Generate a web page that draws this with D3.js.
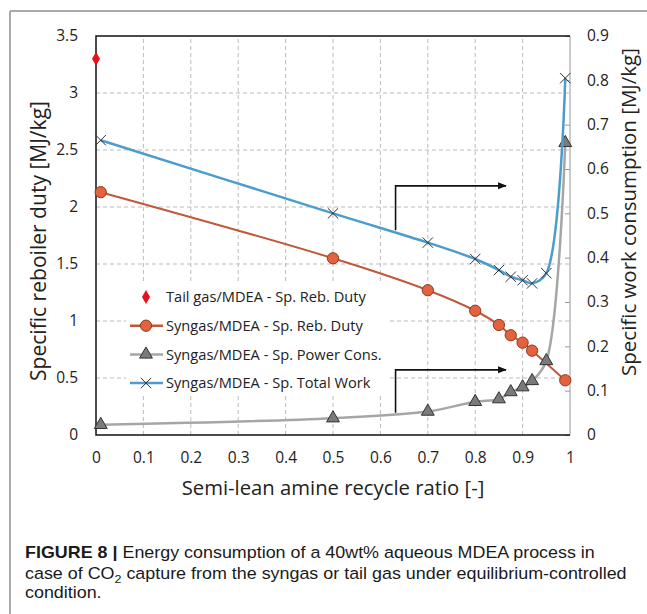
<!DOCTYPE html>
<html>
<head>
<meta charset="utf-8">
<script src="https://cdn.jsdelivr.net/npm/d3@7"></script>
<style>
body { margin: 0; background: #fff; }
svg { display: block; }
.chart text { font-family: "Open Sans", Lato, sans-serif; fill: #222; }
.caption { font-family: "Liberation Sans", Arial, sans-serif; fill: #1a1a1a; font-size: 16.5px; }
</style>
</head>
<body>
<svg width="647" height="614"></svg>
<script>
// values
const tailGasX = [0]
const tailGasDuty = [3.3]

const rebX = [0.01, 0.5, 0.7, 0.8, 0.85, 0.875, 0.9, 0.92, 0.99]
const rebDuty = [2.13, 1.55, 1.27, 1.09, 0.965, 0.875, 0.81, 0.74, 0.48]

const workX = [0.01, 0.5, 0.7, 0.8, 0.85, 0.875, 0.9, 0.92, 0.95, 0.99]
const powerCons = [0.023, 0.038, 0.053, 0.075, 0.081, 0.097, 0.108, 0.122, 0.167, 0.659]
const totalWork = [0.665, 0.5, 0.434, 0.397, 0.372, 0.357, 0.349, 0.342, 0.365, 0.805]

const xTicks = [0, 0.1, 0.2, 0.3, 0.4, 0.5, 0.6, 0.7, 0.8, 0.9, 1]
const leftTicks = [0, 0.5, 1, 1.5, 2, 2.5, 3, 3.5]
const rightTicks = [0, 0.1, 0.2, 0.3, 0.4, 0.5, 0.6, 0.7, 0.8, 0.9]

const legendLabels = [
    "Tail gas/MDEA - Sp. Reb. Duty",
    "Syngas/MDEA - Sp. Reb. Duty",
    "Syngas/MDEA - Sp. Power Cons.",
    "Syngas/MDEA - Sp. Total Work"
]

// arrows pointing to the right axis (x, right-axis values)
const arrowX = [0.632, 0.865]
const arrowTopY = [0.462, 0.562]
const arrowBottomY = [0.05, 0.147]

const svg = d3.select('svg')
const chart = svg.append('g').attr('class', 'chart')

const x = d3.scaleLinear().domain([0, 1]).range([96, 570])
const yLeft = d3.scaleLinear().domain([0, 3.5]).range([435, 36])
const yRight = d3.scaleLinear().domain([0, 0.9]).range([435, 36])

// scale a label's font so it spans the width seen in the figure
function fitWidth(sel, target) {
    const w = sel.node().getComputedTextLength()
    sel.attr('font-size', +sel.attr('font-size') * target / w)
}

// outer frame of the figure
svg.append('line').attr('x1', 10).attr('x2', 647).attr('y1', 11).attr('y2', 11)
    .attr('stroke', '#555').attr('stroke-width', 1)
svg.append('line').attr('x1', 10).attr('x2', 10).attr('y1', 11).attr('y2', 614)
    .attr('stroke', '#aaa').attr('stroke-width', 2)

// grid
chart.append('g').selectAll('line')
    .data(xTicks.slice(1, -1))
    .enter().append('line')
        .attr('x1', d => x(d)).attr('x2', d => x(d))
        .attr('y1', yLeft(0)).attr('y2', yLeft(3.5))
        .attr('stroke', '#bbb').attr('stroke-dasharray', '4,3')
chart.append('g').selectAll('line')
    .data(leftTicks.slice(1, -1))
    .enter().append('line')
        .attr('x1', x(0)).attr('x2', x(1))
        .attr('y1', d => yLeft(d)).attr('y2', d => yLeft(d))
        .attr('stroke', '#bbb').attr('stroke-dasharray', '4,3')

// axes
const xAxis = chart.append('g')
    .attr('transform', `translate(0,${yLeft(0)})`)
    .call(d3.axisBottom(x).tickValues(xTicks).tickSize(0).tickPadding(17).tickFormat(d => String(d)))
const leftAxis = chart.append('g')
    .attr('transform', `translate(${x(0)},0)`)
    .call(d3.axisLeft(yLeft).tickValues(leftTicks).tickSize(0).tickPadding(18).tickFormat(d => String(d)))
const rightAxis = chart.append('g')
    .attr('transform', `translate(${x(1)},0)`)
    .call(d3.axisRight(yRight).tickValues(rightTicks).tickSizeInner(-5).tickSizeOuter(0).tickPadding(17).tickFormat(d => String(d)))

;[xAxis, leftAxis, rightAxis].forEach(a => {
    a.select('.domain').remove()
    a.selectAll('text').attr('font-size', 15.5).attr('font-family', null).attr('fill', '#222')
})
rightAxis.selectAll('line').attr('stroke', '#999')

// plot border
chart.append('line').attr('x1', x(1)).attr('x2', x(1)).attr('y1', yLeft(0)).attr('y2', yLeft(3.5))
    .attr('stroke', '#999').attr('stroke-width', 1)
chart.append('path')
    .attr('d', `M${x(1)},${yLeft(3.5)}H${x(0)}V${yLeft(0)}H${x(1)}`)
    .attr('fill', 'none').attr('stroke', '#111').attr('stroke-width', 1.5)

// axis titles
const leftTitle = chart.append('text')
    .attr('transform', `translate(38,241) rotate(-90)`)
    .attr('text-anchor', 'middle').attr('dominant-baseline', 'central')
    .attr('font-size', 18)
    .text('Specific reboiler duty [MJ/kg]')
fitWidth(leftTitle, 280)
const rightTitle = chart.append('text')
    .attr('transform', `translate(628,212) rotate(-90)`)
    .attr('text-anchor', 'middle').attr('dominant-baseline', 'central')
    .attr('font-size', 18)
    .text('Specific work consumption [MJ/kg]')
fitWidth(rightTitle, 328)
const xTitle = chart.append('text')
    .attr('x', (x(0) + x(1)) / 2).attr('y', 495)
    .attr('text-anchor', 'middle')
    .attr('font-size', 18)
    .text('Semi-lean amine recycle ratio [-]')
fitWidth(xTitle, 303)

// arrows
svg.append('defs').append('marker')
    .attr('id', 'arrow')
    .attr('viewBox', '0 0 10 10').attr('refX', 9).attr('refY', 5)
    .attr('markerWidth', 5.5).attr('markerHeight', 5.5)
    .attr('markerUnits', 'strokeWidth')
    .attr('orient', 'auto')
    .append('path').attr('d', 'M0,1L10,5L0,9Z').attr('fill', '#111')

;[arrowTopY, arrowBottomY].forEach(ys => {
    chart.append('path')
        .attr('d', `M${x(arrowX[0])},${yRight(ys[0])}V${yRight(ys[1])}H${x(arrowX[1])}`)
        .attr('fill', 'none').attr('stroke', '#111').attr('stroke-width', 1.6)
        .attr('marker-end', 'url(#arrow)')
})

// series
const smooth = d3.curveCatmullRom.alpha(0.5)
const circleSym = d3.symbol(d3.symbolCircle, 100)
const triangleSym = d3.symbol(d3.symbolTriangle, 72)
const crossSym = d3.symbol(d3.symbolX, 72)
const diamondSym = d3.symbol(d3.symbolDiamond, 55)

function drawLine(xs, ys, yScale, colour, width) {
    chart.append('path')
        .datum(xs.map((d, i) => [d, ys[i]]))
        .attr('fill', 'none')
        .attr('stroke', colour)
        .attr('stroke-width', width)
        .attr('d', d3.line().x(d => x(d[0])).y(d => yScale(d[1])).curve(smooth))
}

function drawMarkers(xs, ys, yScale, sym, fill, stroke, strokeWidth) {
    chart.append('g').selectAll('path')
        .data(xs.map((d, i) => [d, ys[i]]))
        .enter().append('path')
            .attr('transform', d => `translate(${x(d[0])},${yScale(d[1])})`)
            .attr('d', sym)
            .attr('fill', fill)
            .attr('stroke', stroke)
            .attr('stroke-width', strokeWidth)
}

const rebColour = '#c0583a'
const powerColour = '#a6a6a6'
const workColour = '#4a9dcc'

drawLine(rebX, rebDuty, yLeft, rebColour, 2)
drawMarkers(rebX, rebDuty, yLeft, circleSym, '#e2633d', '#8a3a22', 1)

drawLine(workX, powerCons, yRight, powerColour, 2.5)
drawMarkers(workX, powerCons, yRight, triangleSym, '#7a7a7a', '#333', 1)

drawLine(workX, totalWork, yRight, workColour, 2.5)
drawMarkers(workX, totalWork, yRight, crossSym, 'none', '#333', 1)

drawMarkers(tailGasX, tailGasDuty, yLeft, diamondSym, '#e8101a', 'none', 0)

// legend
const legend = chart.append('g')
legend.append('rect')
    .attr('x', 126).attr('y', 284).attr('width', 262).attr('height', 110)
    .attr('fill', '#fff')

const legendRows = legend.selectAll('g')
    .data(legendLabels)
    .enter().append('g')
        .attr('transform', (d, i) => `translate(146,${297 + i * 28.7})`)

const legendText = legendRows.append('text')
    .attr('x', 20).attr('dy', '0.35em')
    .attr('font-size', 15)
    .text(d => d)
fitWidth(legendText.filter((d, i) => i === 1), 197)
legendText.attr('font-size', legendText.filter((d, i) => i === 1).attr('font-size'))

const legendStyle = [
    { line: null, sym: diamondSym, fill: '#e8101a', stroke: 'none' },
    { line: rebColour, sym: circleSym, fill: '#e2633d', stroke: '#8a3a22' },
    { line: powerColour, sym: triangleSym, fill: '#7a7a7a', stroke: '#333' },
    { line: workColour, sym: crossSym, fill: 'none', stroke: '#333' }
]
legendRows.each(function (d, i) {
    const row = d3.select(this)
    const s = legendStyle[i]
    if (s.line) {
        row.append('line').attr('x1', -16).attr('x2', 17)
            .attr('stroke', s.line).attr('stroke-width', 2.5)
    }
    row.append('path').attr('d', s.sym)
        .attr('fill', s.fill).attr('stroke', s.stroke)
})

// caption
const caption = svg.append('g').attr('class', 'caption')
const line1 = caption.append('text').attr('y', 558)
line1.append('tspan').attr('font-weight', 'bold').text('FIGURE 8 |')
line1.append('tspan').text(' Energy consumption of a 40wt% aqueous MDEA process in')

const line2 = caption.append('text').attr('y', 579)
line2.append('tspan').text('case of CO')
line2.append('tspan').attr('font-size', 11.5).attr('dy', 4).text('2')
line2.append('tspan').attr('dy', -4).text(' capture from the syngas or tail gas under equilibrium-controlled')

caption.append('text').attr('y', 598).text('condition.')

// the printed caption is a little wider than Liberation Sans, stretch it
const stretch = 602 / line2.node().getComputedTextLength()
caption.attr('transform', `translate(25,0) scale(${stretch},1)`)
</script>
</body>
</html>
